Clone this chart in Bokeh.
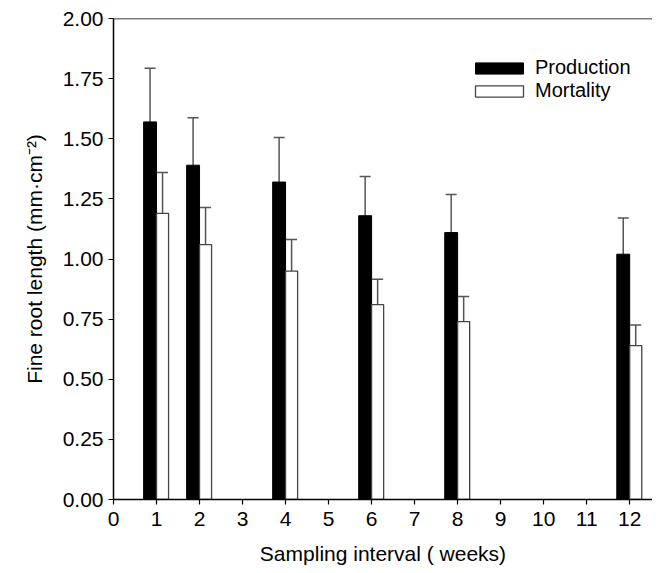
from bokeh.plotting import figure
from bokeh.models import (ColumnDataSource, Range1d, FixedTicker, NumeralTickFormatter,
                          Legend, LegendItem, Span, Whisker, TeeHead)
from bokeh.transform import dodge
from bokeh.embed import file_html
from bokeh.resources import INLINE

weeks = [1, 2, 4, 6, 8, 12]
production = [1.57, 1.39, 1.32, 1.18, 1.11, 1.02]
production_err = [0.223, 0.197, 0.185, 0.163, 0.158, 0.150]
mortality = [1.19, 1.06, 0.95, 0.81, 0.74, 0.64]
mortality_err = [0.170, 0.154, 0.131, 0.106, 0.104, 0.086]
x_ticks = list(range(0, 13))
y_ticks = [0.0, 0.25, 0.5, 0.75, 1.0, 1.25, 1.5, 1.75, 2.0]

src = ColumnDataSource(dict(
    week=weeks,
    production=production,
    prod_hi=[v + e for v, e in zip(production, production_err)],
    mortality=mortality,
    mort_hi=[v + e for v, e in zip(mortality, mortality_err)],
))

FONT = "Liberation Sans"

p = figure(width=652, height=570, output_backend="svg", toolbar_location=None,
           x_range=Range1d(0, 12.53), y_range=Range1d(0, 2.0),
           min_border_left=113, min_border_right=0, min_border_top=18, min_border_bottom=71)
p.outline_line_color = None
p.xgrid.grid_line_color = None
p.ygrid.grid_line_color = None
p.background_fill_color = "white"
p.border_fill_color = "white"

r_prod = p.vbar(x=dodge("week", -0.15), top="production", width=0.3, source=src,
                fill_color="black", line_color="black", line_width=1)
r_mort = p.vbar(x=dodge("week", 0.14), top="mortality", width=0.28, source=src,
                fill_color="white", line_color="#444444", line_width=1.3)

for base, lo, hi in ((dodge("week", -0.15), "production", "prod_hi"),
                     (dodge("week", 0.14), "mortality", "mort_hi")):
    w = Whisker(source=src, base=base, lower=lo, upper=hi, dimension="height",
                line_color="#555555", line_width=1.5,
                upper_head=TeeHead(size=11, line_color="#555555", line_width=1.5),
                lower_head=None)
    p.add_layout(w)

p.add_layout(Span(location=2.0, dimension="width", line_color="black", line_width=1.5))

for ax in (p.xaxis[0], p.yaxis[0]):
    ax.axis_line_width = 1.5
    ax.axis_line_color = "black"
    ax.major_tick_line_color = "black"
    ax.major_tick_line_width = 1.2
    ax.major_tick_in = 0
    ax.major_tick_out = 5
    ax.minor_tick_line_color = None
    ax.major_label_text_font = FONT
    ax.major_label_text_font_size = "21px"
    ax.major_label_text_color = "black"
    ax.axis_label_text_font = FONT
    ax.axis_label_text_font_size = "21px"
    ax.axis_label_text_font_style = "normal"
    ax.axis_label_text_color = "black"

p.xaxis.ticker = FixedTicker(ticks=x_ticks)
p.yaxis.ticker = FixedTicker(ticks=y_ticks)
p.yaxis.formatter = NumeralTickFormatter(format="0.00")
p.xaxis.axis_label = "Sampling interval ( weeks)"
p.yaxis.axis_label = "Fine root length (mm\u00b7cm\u207b\u00b2)"
p.xaxis.major_label_standoff = 7
p.yaxis.major_label_standoff = 5
p.xaxis.axis_label_standoff = 13
p.yaxis.axis_label_standoff = 14

legend = Legend(items=[LegendItem(label="Production", renderers=[r_prod]),
                       LegendItem(label="Mortality", renderers=[r_mort])],
                location=(356, 397), orientation="vertical")
legend.border_line_color = None
legend.background_fill_alpha = 0
legend.padding = 0
legend.margin = 0
legend.glyph_width = 60
legend.glyph_height = 14
legend.label_height = 11
legend.spacing = 0
legend.label_standoff = 6
legend.label_text_font = FONT
legend.label_text_font_size = "20px"
legend.label_text_color = "black"
p.add_layout(legend)

open("out.html", "w").write(file_html(p, INLINE))
